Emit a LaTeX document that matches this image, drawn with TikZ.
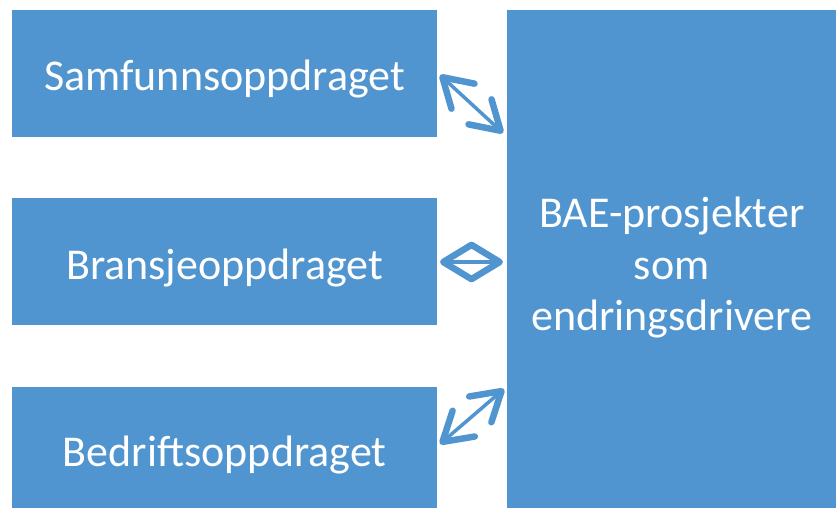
\documentclass[tikz,border=0pt]{standalone}
\usepackage{fontspec}
\setmainfont{Carlito}
\usetikzlibrary{arrows.meta}
\definecolor{boxblue}{RGB}{80,149,207}
\tikzset{
  bbox/.style={fill=boxblue, draw=none, inner sep=0pt, text=white, font=\fontsize{44}{51.5}\selectfont, align=center},
  dblarrow/.style={draw=boxblue, line width=3.5pt, {Straight Barb[round,length=28pt,width=34pt,line width=6.5pt]}-{Straight Barb[round,length=28pt,width=34pt,line width=6.5pt]}}
}
\begin{document}
\begin{tikzpicture}[x=1pt,y=-1pt]
\useasboundingbox (0,0) rectangle (836,509);
\node[bbox, minimum width=425pt, minimum height=127pt, anchor=north west] (s) at (12,10) {\raisebox{-16.5pt}[0pt][0pt]{Samfunnsoppdraget}};
\node[bbox, minimum width=425pt, minimum height=127pt, anchor=north west] (b) at (12,198) {\raisebox{-17.8pt}[0pt][0pt]{Bransjeoppdraget}};
\node[bbox, minimum width=425pt, minimum height=121pt, anchor=north west] (f) at (12,387) {\raisebox{-19.2pt}[0pt][0pt]{Bedriftsoppdraget}};
\node[bbox, minimum width=329pt, minimum height=498pt, anchor=north west] (p) at (507,10) {\raisebox{31.7pt}[0pt][0pt]{\begin{tabular}[t]{@{}c@{}}BAE-prosjekter\\som\\endringsdrivere\end{tabular}}};
\coordinate (a1s) at (440,75);
\coordinate (a1e) at (503,133);
\coordinate (a2s) at (440,262);
\coordinate (a2e) at (503,262);
\coordinate (a3s) at (440,444);
\coordinate (a3e) at (504,389);
\draw[dblarrow] (a1s) -- (a1e);
\draw[dblarrow] (a2s) -- (a2e);
\draw[dblarrow] (a3s) -- (a3e);
\end{tikzpicture}
\end{document}
